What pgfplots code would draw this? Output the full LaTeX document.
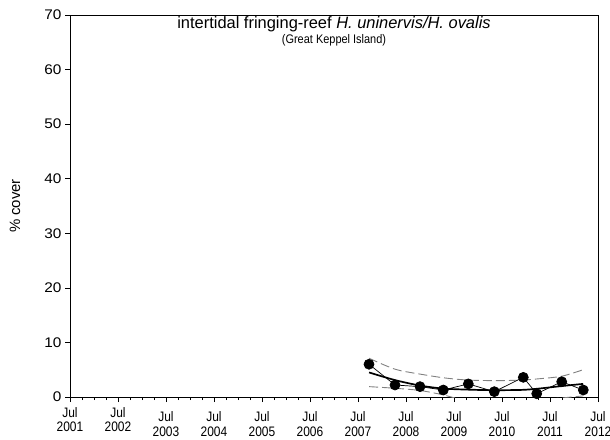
\documentclass[border=0pt]{standalone}
\usepackage{pgfplots}
\pgfplotsset{compat=1.18}
\usepackage{fontspec}
\setmainfont{Liberation Sans}
\newfontfamily\xfont[FakeStretch=0.87]{Liberation Sans}
\newfontfamily\yfont[FakeStretch=1.1]{Liberation Sans}
\newfontfamily\sfont[FakeStretch=0.88]{Liberation Sans}
\definecolor{cigray}{RGB}{128,128,128}
\begin{document}
\begin{tikzpicture}
\begin{axis}[
  at={(70bp,43bp)}, anchor=south west,
  width=528bp, height=382bp, scale only axis,
  xmin=2001.5, xmax=2012.5, ymin=0, ymax=70,
  xtick={2001.5,2002.5,2003.5,2004.5,2005.5,2006.5,2007.5,2008.5,2009.5,2010.5,2011.5,2012.5},
  minor x tick num=3,
  ytick={0,10,20,30,40,50,60,70},
  xtick pos=lower, ytick pos=left,
  tick align=outside,
  major tick length=5bp, minor tick length=3bp,
  tick style={black, line width=0.7bp},
  axis line style={black, line width=0.8bp},
  /pgf/number format/assume math mode=true,
  xticklabels={
    {\raisebox{4.5bp}[\height][\depth]{\shortstack{Jul\\[1.5bp]2001}}},
    {\raisebox{4.5bp}[\height][\depth]{\shortstack{Jul\\[1.5bp]2002}}},
    {Jul\\2003},{Jul\\2004},{Jul\\2005},{Jul\\2006},{Jul\\2007},
    {Jul\\2008},{Jul\\2009},{Jul\\2010},{Jul\\2011},{Jul\\2012}},
  x tick label style={font=\xfont\fontsize{13.8}{14.8}\selectfont, align=center, inner sep=2bp, yshift=-7.5bp},
  y tick label style={font=\yfont\fontsize{14}{16}\selectfont},
  clip mode=individual,
]
\addplot[cigray, line width=0.9bp, dash pattern=on 9bp off 4bp, smooth] coordinates {
  (2007.73,7.1) (2008.27,5.1) (2008.79,4.2) (2009.3,3.5) (2009.8,3.1) (2010.4,3.0)
  (2010.9,3.1) (2011.22,3.3) (2011.74,3.8) (2012.19,5.0)};
\addplot[cigray, line width=0.9bp, dash pattern=on 9bp off 4bp, smooth] coordinates {
  (2007.73,1.9) (2008.27,1.6) (2008.79,1.2) (2009.27,0.4) (2009.6,-0.3) (2010.3,-0.9)
  (2011.0,-0.8) (2011.6,-0.3) (2012.19,0.2)};
\addplot[black, line width=1.7bp, smooth] coordinates {
  (2007.73,4.5) (2008.27,3.1) (2008.79,2.1) (2009.27,1.55) (2009.79,1.35)
  (2010.33,1.25) (2010.9,1.3) (2011.22,1.5) (2011.74,2.0) (2012.19,2.4)};
\addplot[black, line width=0.7bp, mark=*, mark size=5bp, mark options={fill=black, solid}] coordinates {
  (2007.729,6.0) (2008.271,2.2) (2008.792,1.9) (2009.277,1.28) (2009.798,2.4)
  (2010.340,0.98) (2010.944,3.6) (2011.223,0.6) (2011.744,2.8) (2012.194,1.28)};
\node[font=\fontsize{16.5}{18}\selectfont] at (rel axis cs:0.5,0.976)
  {intertidal fringing-reef \textit{H. uninervis/H. ovalis}};
\node[font=\sfont\fontsize{12.5}{14}\selectfont] at (rel axis cs:0.5,0.935)
  {(Great Keppel Island)};
\node[rotate=90, font=\fontsize{15}{16}\selectfont] at (rel axis cs:-0.104,0.5) {\% cover};
\end{axis}
\pgfresetboundingbox
\path[use as bounding box] (0,0) rectangle (610bp,440bp);
\end{tikzpicture}
\end{document}
